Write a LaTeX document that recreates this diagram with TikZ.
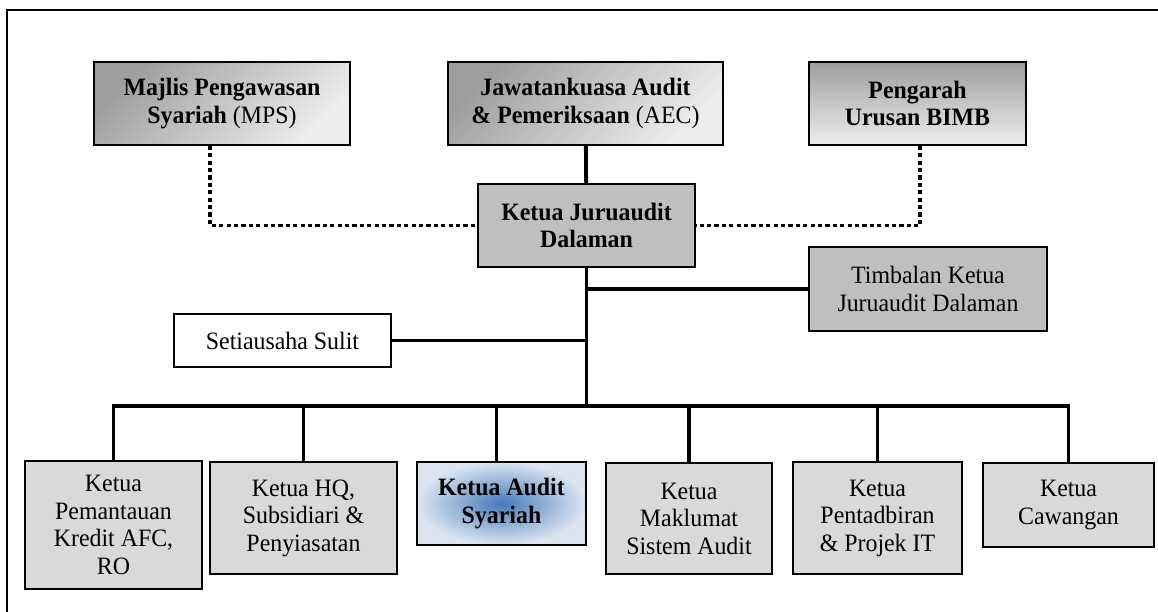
\documentclass[tikz,border=0pt]{standalone}
\usepackage{fontspec}
\setmainfont{Liberation Serif}[FakeStretch=0.955]
\usetikzlibrary{positioning,calc}
\definecolor{syain}{RGB}{70,122,186}
\definecolor{syaout}{RGB}{219,229,241}

\begin{document}
\begin{tikzpicture}[x=1pt,y=1pt,
  box/.style={draw=black,line width=1.6pt,inner sep=0pt,align=center,font=\fontsize{25}{27.5}\selectfont},
  topbox/.style={box,top color=black!38,bottom color=black!7,shading angle=45},
  midbox/.style={box,fill=black!25},
  lowbox/.style={box,fill=black!15},
  syabox/.style={box,inner color=syain,outer color=syaout},
  edge/.style={line width=3.8pt},
  dotedge/.style={line width=3.8pt,dash pattern=on 4.2pt off 3.2pt}]
\useasboundingbox (0,0) rectangle (1158,-612);
\draw[line width=2.5pt] (7,-612) -- (7,-10) -- (1158,-10);

\node(mps)[topbox,minimum width=256,minimum height=83] at (222,-103.5) {\textbf{Majlis Pengawasan}\\\textbf{Syariah} (MPS)};
\node(aec)[topbox,minimum width=275,minimum height=83] at (585.5,-103.5) {\textbf{Jawatankuasa Audit}\\\textbf{\& Pemeriksaan} (AEC)};
\node(bimb)[topbox,shading angle=0,minimum width=217,minimum height=83] at (917.5,-103.5) {\textbf{Pengarah}\\\textbf{Urusan BIMB}};
\node(kjd)[midbox,minimum width=217,minimum height=83] at (586.5,-225.5) {\textbf{Ketua Juruaudit}\\\textbf{Dalaman}};
\node(tkjd)[midbox,minimum width=238,minimum height=84] at (928,-289) {Timbalan Ketua\\Juruaudit Dalaman};
\node(ss)[box,fill=white,minimum width=217,minimum height=53] at (282.5,-340.5) {Setiausaha Sulit};
\coordinate(bus) at (587,-406);

\node(k1)[lowbox,minimum width=177,minimum height=128] at (113.5,-525) {Ketua\\Pemantauan\\Kredit AFC,\\RO};
\node(k2)[lowbox,minimum width=187,minimum height=112] at (303.5,-518) {Ketua HQ,\\Subsidiari \&\\Penyiasatan};
\node(k3)[syabox,minimum width=169,minimum height=83] at (501.5,-503.5) {\textbf{Ketua Audit}\\\textbf{Syariah}};
\node(k4)[lowbox,minimum width=166,minimum height=111] at (689,-518.5) {Ketua\\Maklumat\\Sistem Audit};
\node(k5)[lowbox,minimum width=169,minimum height=112] at (877.5,-518) {Ketua\\Pentadbiran\\\& Projek IT};
\node(k6)[lowbox,minimum width=171,minimum height=84] at (1068.5,-505) {Ketua\\Cawangan};

\draw [dotedge] ([xshift=-12pt]mps.south) |- (kjd.west);
\draw [dotedge] ([xshift=2.5pt]bimb.south) |- (kjd.east);
\draw [edge] (aec) -- (kjd);
\draw [edge] (kjd) -- (kjd |- bus);
\draw [edge] (tkjd.west) -- (tkjd.west -| kjd);
\draw [edge] (ss.east) -- (ss.east -| kjd);
\draw [edge] (k1) |- (bus) -| (k6);
\draw [edge] (k2) -- (k2 |- bus);
\draw [edge] ([xshift=-5pt]k3.north) -- ([xshift=-5pt]k3.north |- bus);
\draw [edge] (k4) -- (k4 |- bus);
\draw [edge] (k5) -- (k5 |- bus);
\end{tikzpicture}
\end{document}
